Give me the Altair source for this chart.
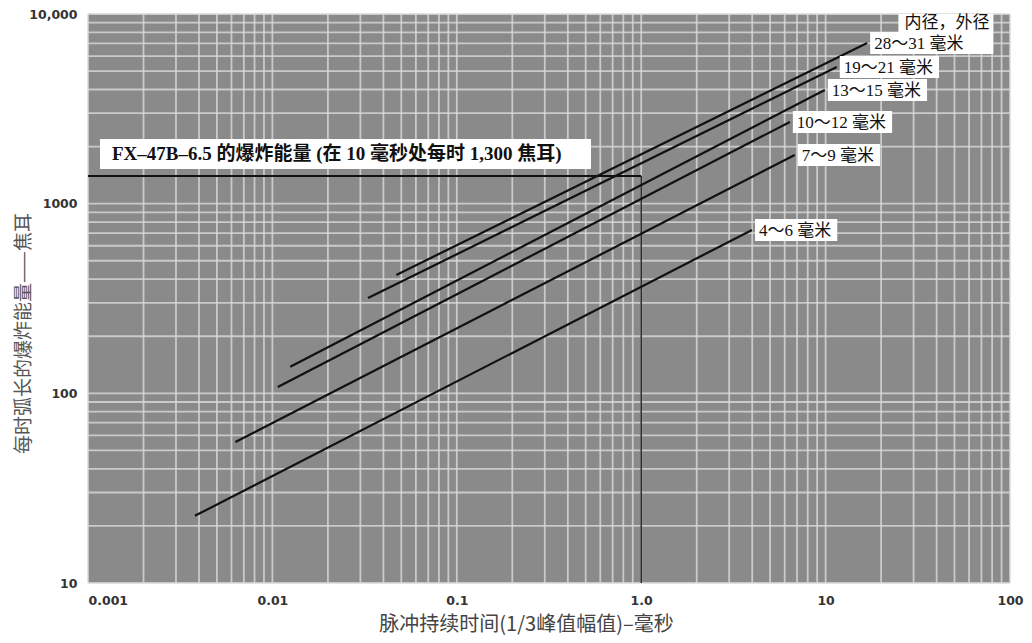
import altair as alt
import pandas as pd
import numpy as np

# ---------------- data ----------------
series_names = ["4～6 毫米", "7～9 毫米", "10～12 毫米", "13～15 毫米", "19～21 毫米", "28～31 毫米"]
t_start = [0.0038, 0.0063, 0.0107, 0.0125, 0.033, 0.047]
e_start = [22.6, 55.4, 108, 138, 318, 421]
t_end = [3.99, 6.8, 6.4, 9.9, 11.5, 16.8]
e_end = [727, 1806, 2697, 3972, 5258, 7031]

ref_energy = 1400
ref_time = 1.0
ref_time_min = 0.001
energy_min = 10

x_ticks = [0.001, 0.01, 0.1, 1, 10, 100]
y_ticks = [10, 100, 1000, 10000]
header_text = "内径，外径"
fx_text = "FX–47B–6.5 的爆炸能量 (在 10 毫秒处每时 1,300 焦耳)"
x_title = "脉冲持续时间(1/3峰值幅值)–毫秒"
y_title = "每时弧长的爆炸能量——焦耳"

# ---------------- layout ----------------
W, H = 922, 569
PX = W / 5.0   # pixels per decade (x)
PY = H / 3.0   # pixels per decade (y)
LABEL_SIZE = 17
FONT = "Liberation Serif, Noto Sans CJK SC"


def text_width(s, size):
    w = 0.0
    for ch in s:
        if ord(ch) > 0x2000:
            w += size
        elif ch == " ":
            w += 0.25 * size
        else:
            w += 0.5 * size
    return w


def shift_x(v, px):
    return v * 10 ** (px / PX)


def shift_y(v, px):
    return v * 10 ** (px / PY)


xs = alt.Scale(type="log", domain=[0.001, 100], nice=False)
ys = alt.Scale(type="log", domain=[10, 10000], nice=False)

x_axis = alt.Axis(
    values=x_ticks, title=x_title, grid=False, ticks=False, domain=False,
    labelExpr="datum.value == 1 ? '1.0' : format(datum.value, '~g')",
    labelFlush=False, labelOverlap=False,
    labelAlign={"condition": {"test": "datum.value <= 0.001", "value": "left"}, "value": "center"},
    labelPadding=11, labelFont="DejaVu Sans", labelFontWeight="bold", labelFontSize=12.5,
    labelColor="#333",
    titleFont="Noto Sans CJK SC", titleFontSize=20, titleFontWeight="normal", titleColor="#444",
    titleX=438, titleY=41, titleBaseline="middle", titleAlign="center",
)
y_axis = alt.Axis(
    values=y_ticks, title=y_title, grid=False, ticks=False, domain=False,
    labelExpr="datum.value == 10000 ? '10,000' : format(datum.value, 'd')",
    labelOverlap=False, labelFlush=False,
    labelPadding=11, labelFont="DejaVu Sans", labelFontWeight="bold", labelFontSize=12.5,
    labelColor="#333", labelBaseline="middle",
    titleFont="Noto Sans CJK SC", titleFontSize=19, titleFontWeight="normal", titleColor="#555",
    titleX=-65, titleY=319, titleBaseline="middle", titleAlign="center", titleAngle=270,
)


def X(field="t"):
    return alt.X(f"{field}:Q", scale=xs, axis=x_axis)


def Y(field="e"):
    return alt.Y(f"{field}:Q", scale=ys, axis=y_axis)


# grid of log paper
grid_x = [d * m for d in [0.001, 0.01, 0.1, 1, 10] for m in range(1, 10)] + [100]
grid_y = [d * m for d in [10, 100, 1000] for m in range(1, 10)] + [10000]

GRID_COLOR = "#dadada"
gx = alt.Chart(pd.DataFrame({"t": grid_x})).mark_rule(color=GRID_COLOR, strokeWidth=1.8, opacity=0.8).encode(x=X())
gy = alt.Chart(pd.DataFrame({"e": grid_y})).mark_rule(color=GRID_COLOR, strokeWidth=1.8, opacity=0.8).encode(y=Y())

# series lines
rows = []
for n, ts, es, te, ee in zip(series_names, t_start, e_start, t_end, e_end):
    rows.append({"s": n, "t": ts, "e": es, "o": 0})
    rows.append({"s": n, "t": te, "e": ee, "o": 1})
lines = alt.Chart(pd.DataFrame(rows)).mark_line(color="#111", strokeWidth=2.2).encode(
    x=X(), y=Y(), detail="s:N", order="o:Q"
)

# reference lines (FX-47B-6.5)
href = alt.Chart(pd.DataFrame({"t": [ref_time_min, ref_time], "e": [ref_energy, ref_energy]})).mark_line(
    color="#111", strokeWidth=2).encode(x=X(), y=Y())
vref = alt.Chart(pd.DataFrame({"t": [ref_time, ref_time], "e": [energy_min, ref_energy]})).mark_line(
    color="#111", strokeWidth=1.3).encode(x=X(), y=Y())

# series labels with white boxes
lab_rows = []
for n, te, ee in zip(series_names, t_end, e_end):
    w = text_width(n, LABEL_SIZE) + 10
    lab_rows.append({
        "s": n, "t": te, "e": ee,
        "x1": shift_x(te, 3), "x2": shift_x(te, 3 + w),
        "y1": shift_y(ee, -11), "y2": shift_y(ee, 11),
    })
lab_df = pd.DataFrame(lab_rows)
# top label box is widened to meet the header box
top = lab_df.iloc[-1]
hdr_w = text_width(header_text, LABEL_SIZE) + 10
hdr_right = shift_x(top["x2"], 24)
lab_df.loc[lab_df.index[-1], "x2"] = hdr_right
hdr_df = pd.DataFrame([{
    "x1": hdr_right / 10 ** (hdr_w / PX), "x2": hdr_right,
    "y1": shift_y(top["y2"], -1), "y2": shift_y(top["y2"], 18),
    "t": hdr_right, "e": shift_y(top["e"], 20), "s": header_text,
}])

boxes = alt.Chart(lab_df).mark_rect(color="white").encode(x=X("x1"), x2="x2", y=Y("y1"), y2="y2")
texts = alt.Chart(lab_df).mark_text(align="left", baseline="middle", dx=7, dy=1, font=FONT,
                                    fontSize=LABEL_SIZE, color="#111").encode(x=X(), y=Y(), text="s:N")
hbox = alt.Chart(hdr_df).mark_rect(color="white").encode(x=X("x1"), x2="x2", y=Y("y1"), y2="y2")
htext = alt.Chart(hdr_df).mark_text(align="right", baseline="middle", dx=-4, font=FONT,
                                    fontSize=LABEL_SIZE, color="#111").encode(x=X(), y=Y(), text="s:N")

# FX-47B label
FX_SIZE = 19
fx_w = text_width(fx_text, FX_SIZE) + 12 + 4
fx_df = pd.DataFrame([{
    "x1": shift_x(ref_time_min, 12), "x2": shift_x(ref_time_min, 12 + fx_w),
    "y1": shift_y(ref_energy, 7), "y2": shift_y(ref_energy, 37),
    "t": shift_x(ref_time_min, 12), "e": shift_y(ref_energy, 22), "s": fx_text,
}])
fxbox = alt.Chart(fx_df).mark_rect(color="white").encode(x=X("x1"), x2="x2", y=Y("y1"), y2="y2")
fxtext = alt.Chart(fx_df).mark_text(align="left", baseline="middle", dx=12, font=FONT, fontWeight="bold",
                                    fontSize=FX_SIZE, color="#111").encode(x=X(), y=Y(), text="s:N")

chart = alt.layer(
    gx, gy, lines, href, vref, fxbox, fxtext, boxes, hbox, texts, htext
).properties(
    width=W, height=H,
    autosize=alt.AutoSizeParams(type="none"),
    padding={"left": 80, "top": 6, "right": 14, "bottom": 52},
    background="white",
).configure_view(fill="#8a8a8a", stroke=None)

chart.save("out.html", embed_options={"renderer": "svg", "actions": False})
